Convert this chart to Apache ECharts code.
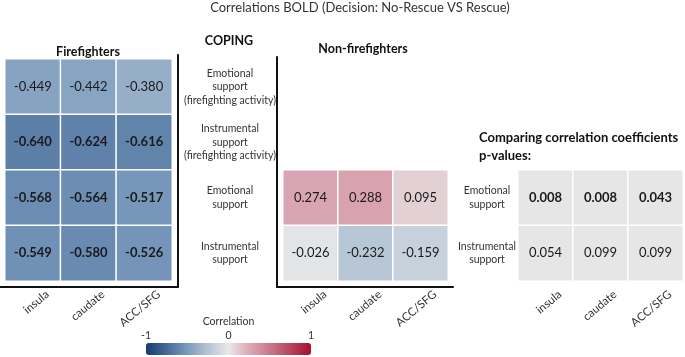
<!DOCTYPE html>
<html>
<head>
<meta charset="utf-8">
<style>html,body{margin:0;padding:0;background:#fff}#c{width:685px;height:357px}</style>
<script src="https://cdn.jsdelivr.net/npm/echarts@6/dist/echarts.min.js"></script>
</head>
<body>
<div id="c"></div>
<script>
const chartTitle = 'Correlations BOLD (Decision: No-Rescue VS Rescue)';
const regions = ['insula', 'caudate', 'ACC/SFG'];
const ffRows = ['Emotional\nsupport\n(firefighting activity)', 'Instrumental\nsupport\n(firefighting activity)', 'Emotional\nsupport', 'Instrumental\nsupport'];
const nfRows = ['Emotional\nsupport', 'Instrumental\nsupport'];
const ffValues = [
  [-0.449, -0.442, -0.380],
  [-0.640, -0.624, -0.616],
  [-0.568, -0.564, -0.517],
  [-0.549, -0.580, -0.526]
];
const nfValues = [
  [0.274, 0.288, 0.095],
  [-0.026, -0.232, -0.159]
];
const pValues = [
  [0.008, 0.008, 0.043],
  [0.054, 0.099, 0.099]
];
const ffBold = [false, true, true, true];
const pBold = [true, false];
const colorTicks = [-1, 0, 1];

const FONT = 'Lato, "Open Sans", sans-serif';
const colorStops = ['#173b6d', '#456a97', '#7a9abd', '#b4c4d4', '#e8e8e8', '#dbaab6', '#c9788b', '#b8445c', '#a5102b'];

function build(values, boldRows) {
  const out = [];
  values.forEach((row, r) => row.forEach((v, c) => {
    out.push({ value: [c, r, v], label: { fontWeight: boldRows && boldRows[r] ? 'bold' : 'normal' } });
  }));
  return out;
}

const chart = echarts.init(document.getElementById('c'));
const hiddenAxis = { axisLine: { show: false }, axisTick: { show: false }, splitLine: { show: false } };
const frameLine = { show: true, onZero: false, lineStyle: { color: '#111', width: 2 } };
const xLabel = { interval: 0, rotate: 40, fontSize: 11.5, color: '#333', margin: 24, padding: [0, -19, 0, 0], fontFamily: FONT };

const cellLabel = { show: true, fontSize: 13, color: '#1a1a1a', fontFamily: FONT, formatter: p => p.value[2].toFixed(3) };

chart.setOption({
  animation: false,
  textStyle: { fontFamily: FONT },
  title: [
    { text: chartTitle, left: 355, textAlign: 'center', top: 0, padding: [1, 5], textStyle: { fontSize: 13, fontWeight: 'normal', color: '#333', fontFamily: FONT } },
    { text: 'Firefighters', left: 83, top: 40, textAlign: 'center', textStyle: { fontSize: 12.5, fontWeight: 'bold', color: '#111', fontFamily: FONT } },
    { text: 'COPING', left: 224, top: 29, textAlign: 'center', textStyle: { fontSize: 12.5, fontWeight: 'bold', color: '#111', fontFamily: FONT } },
    { text: 'Non-firefighters', left: 358, top: 37, textAlign: 'center', textStyle: { fontSize: 12.5, fontWeight: 'bold', color: '#111', fontFamily: FONT } },
    { text: 'Comparing correlation coefficients\np-values:', left: 474, top: 124, textStyle: { fontSize: 13, fontWeight: 'bold', color: '#111', lineHeight: 18, fontFamily: FONT } }
  ],
  grid: [
    { left: 5, top: 59, width: 167, height: 222 },
    { left: 283, top: 170, width: 165, height: 111 },
    { left: 518, top: 170, width: 165, height: 111 },
    { left: 0, top: 55, width: 178, height: 232 },
    { left: 277, top: 57, width: 176, height: 230 },
    { left: 146, top: 343, width: 165, height: 12 }
  ],
  xAxis: [
    Object.assign({ gridIndex: 0, type: 'category', data: regions, axisLabel: xLabel }, hiddenAxis),
    Object.assign({ gridIndex: 1, type: 'category', data: regions, axisLabel: xLabel }, hiddenAxis),
    Object.assign({ gridIndex: 2, type: 'category', data: regions, axisLabel: xLabel }, hiddenAxis),
    { gridIndex: 3, type: 'value', min: 0, max: 1, axisLine: frameLine, axisTick: { show: false }, axisLabel: { show: false }, splitLine: { show: false } },
    { gridIndex: 4, type: 'value', min: 0, max: 1, axisLine: frameLine, axisTick: { show: false }, axisLabel: { show: false }, splitLine: { show: false } },
    Object.assign({ gridIndex: 5, type: 'value', min: -1, max: 1, interval: 1, position: 'top',
      axisLabel: { fontSize: 10.5, color: '#333', margin: 2, fontFamily: FONT, formatter: v => colorTicks.indexOf(v) >= 0 ? String(v) : '' },
      name: 'Correlation', nameLocation: 'middle', nameGap: 16, nameTextStyle: { fontSize: 10.5, color: '#333', fontFamily: FONT } }, hiddenAxis)
  ],
  yAxis: [
    Object.assign({ gridIndex: 0, type: 'category', data: ffRows, inverse: true, position: 'right',
      axisLabel: { interval: 0, align: 'center', margin: 58, fontSize: 10.5, lineHeight: 13.5, color: '#333', fontFamily: FONT } }, hiddenAxis),
    Object.assign({ gridIndex: 1, type: 'category', data: nfRows, inverse: true, axisLabel: { show: false } }, hiddenAxis),
    Object.assign({ gridIndex: 2, type: 'category', data: nfRows, inverse: true, position: 'left',
      axisLabel: { interval: 0, align: 'center', margin: 31, fontSize: 10.5, lineHeight: 13.5, color: '#333', fontFamily: FONT } }, hiddenAxis),
    { gridIndex: 3, type: 'value', min: 0, max: 1, position: 'right', axisLine: frameLine, axisTick: { show: false }, axisLabel: { show: false }, splitLine: { show: false } },
    { gridIndex: 4, type: 'value', min: 0, max: 1, position: 'left', axisLine: frameLine, axisTick: { show: false }, axisLabel: { show: false }, splitLine: { show: false } },
    { gridIndex: 5, type: 'value', show: false }
  ],
  visualMap: {
    type: 'continuous', min: -1, max: 1, seriesIndex: [0, 1], orient: 'horizontal',
    left: 146, top: 343, itemWidth: 12, itemHeight: 165, padding: 0, calculable: false, hoverLink: false,
    text: null, inRange: { color: colorStops }
  },
  series: [
    { type: 'heatmap', xAxisIndex: 0, yAxisIndex: 0, data: build(ffValues, ffBold), label: cellLabel,
      itemStyle: { borderColor: '#fff', borderWidth: 1.5 }, emphasis: { disabled: true } },
    { type: 'heatmap', xAxisIndex: 1, yAxisIndex: 1, data: build(nfValues, null), label: cellLabel,
      itemStyle: { borderColor: '#fff', borderWidth: 1.5 }, emphasis: { disabled: true } },
    { type: 'heatmap', xAxisIndex: 2, yAxisIndex: 2, data: build(pValues, pBold), label: cellLabel,
      itemStyle: { color: '#e6e6e6', borderColor: '#fff', borderWidth: 1.5 }, emphasis: { disabled: true } }
  ]
});
</script>
</body>
</html>
